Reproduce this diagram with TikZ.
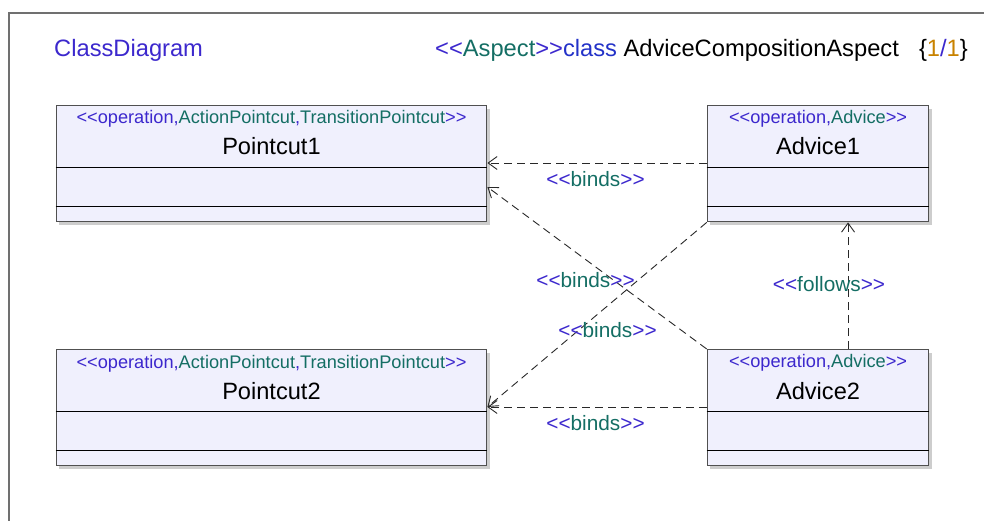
\documentclass[tikz,border=0pt]{standalone}
\usepackage{fontspec}
\setmainfont{Liberation Sans}
\usetikzlibrary{arrows.meta,calc,shadows}

\definecolor{stereoblue}{RGB}{60,40,205}
\definecolor{stereoteal}{RGB}{20,110,100}
\definecolor{kwblue}{RGB}{35,50,200}
\definecolor{countgold}{RGB}{200,130,0}
\definecolor{boxfill}{RGB}{240,240,253}
\definecolor{boxedge}{RGB}{80,80,80}
\definecolor{frameedge}{RGB}{112,112,112}
\definecolor{shadowgray}{RGB}{205,205,205}
\definecolor{depline}{RGB}{40,40,40}

% stereotype brackets, kept apart so no guillemet mapping applies
\newcommand{\stl}{\textcolor{stereoblue}{<\kern0pt<}}
\newcommand{\str}{\textcolor{stereoblue}{>\kern0pt>}}
\newcommand{\stname}[1]{\textcolor{stereoteal}{#1}}
\newcommand{\comma}{\textcolor{stereoblue}{,}}

\begin{document}
\begin{tikzpicture}[x=1pt,y=-1pt,
  classbox/.style={draw=boxedge, line width=1.4pt, fill=boxfill,
    minimum height=116pt, anchor=north west, inner sep=0pt,
    drop shadow={shadow xshift=3pt, shadow yshift=-3pt, fill=shadowgray, opacity=1}},
  divider/.style={draw=black, line width=0.9pt},
  stereotext/.style={anchor=base, inner sep=0pt, text=stereoblue,
    font=\fontsize{18.2pt}{20pt}\selectfont},
  nametext/.style={anchor=base, inner sep=0pt, text=black,
    font=\fontsize{23.6pt}{26pt}\selectfont},
  deplabel/.style={anchor=base, inner sep=0pt,
    font=\fontsize{20.8pt}{24pt}\selectfont},
  headtext/.style={anchor=base west, inner sep=0pt,
    font=\fontsize{23.7pt}{27pt}\selectfont},
  dep/.style={draw=depline, line width=0.9pt, dash pattern=on 8pt off 5pt,
    -{Straight Barb[length=9pt, width=13pt, line width=0.9pt]}}
]
\useasboundingbox (0,0) rectangle (984,521);

% diagram frame
\draw[frameedge, line width=1.8pt] (990,13) -| (9,530);

% header
\node[headtext, text=stereoblue] (title) at (54,57) {ClassDiagram};
\node[headtext] (aspect) at (435,57)
  {\stl\stname{Aspect}\str\textcolor{kwblue}{class} AdviceCompositionAspect};
\node[headtext, anchor=base east] (count) at (968,57)
  {\{\textcolor{countgold}{1}\textcolor{stereoblue}{/}\textcolor{countgold}{1}\}};

% classes
\node[classbox, minimum width=430.5pt] (p1) at (55.5,105) {};
\node[classbox, minimum width=430.5pt] (p2) at (55.5,349) {};
\node[classbox, minimum width=221.3pt] (a1) at (706.7,105) {};
\node[classbox, minimum width=221.3pt] (a2) at (706.7,349) {};

\foreach \c in {p1,p2,a1,a2}{
  \draw[divider] ($(\c.north west)+(0,62)$) -- ($(\c.north east)+(0,62)$);
  \draw[divider] ($(\c.north west)+(0,101)$) -- ($(\c.north east)+(0,101)$);
}

\node[stereotext] (p1s) at ($(p1.north)+(0,19)$)
  {\stl operation\comma\stname{ActionPointcut}\comma\stname{TransitionPointcut}\str};
\node[nametext] (p1n) at ($(p1.north)+(0,50)$) {Pointcut1};
\node[stereotext] (p2s) at ($(p2.north)+(0,19)$)
  {\stl operation\comma\stname{ActionPointcut}\comma\stname{TransitionPointcut}\str};
\node[nametext] (p2n) at ($(p2.north)+(0,50)$) {Pointcut2};
\node[stereotext] (a1s) at ($(a1.north)+(0,18.5)$)
  {\stl operation\comma\stname{Advice}\str};
\node[nametext] (a1n) at ($(a1.north)+(0,50)$) {Advice1};
\node[stereotext] (a2s) at ($(a2.north)+(0,18.5)$)
  {\stl operation\comma\stname{Advice}\str};
\node[nametext] (a2n) at ($(a2.north)+(0,50)$) {Advice2};

% dependencies
\draw[dep] ($(a1.north west)+(0,58)$) -- ($(p1.north east)+(0,58)$);
\draw[dep] (a2.north west) -- ($(p1.north east)+(0,82)$);
\draw[dep] (a1.south west) -- ($(p2.north east)+(0,58)$);
\draw[dep] ($(a2.north west)+(0,58)$) -- ($(p2.north east)+(0,58)$);
\draw[dep] ($(a2.north)+(30,0)$) -- ($(a1.south)+(30,0)$);

% dependency labels
\node[deplabel] (l1) at (595.5,187) {\stl\stname{binds}\str};
\node[deplabel] (l2) at (585.5,287) {\stl\stname{binds}\str};
\node[deplabel] (l3) at (607.5,337) {\stl\stname{binds}\str};
\node[deplabel] (l4) at (595.5,430) {\stl\stname{binds}\str};
\node[deplabel] (l5) at (829,291) {\stl\stname{follows}\str};
\end{tikzpicture}
\end{document}
